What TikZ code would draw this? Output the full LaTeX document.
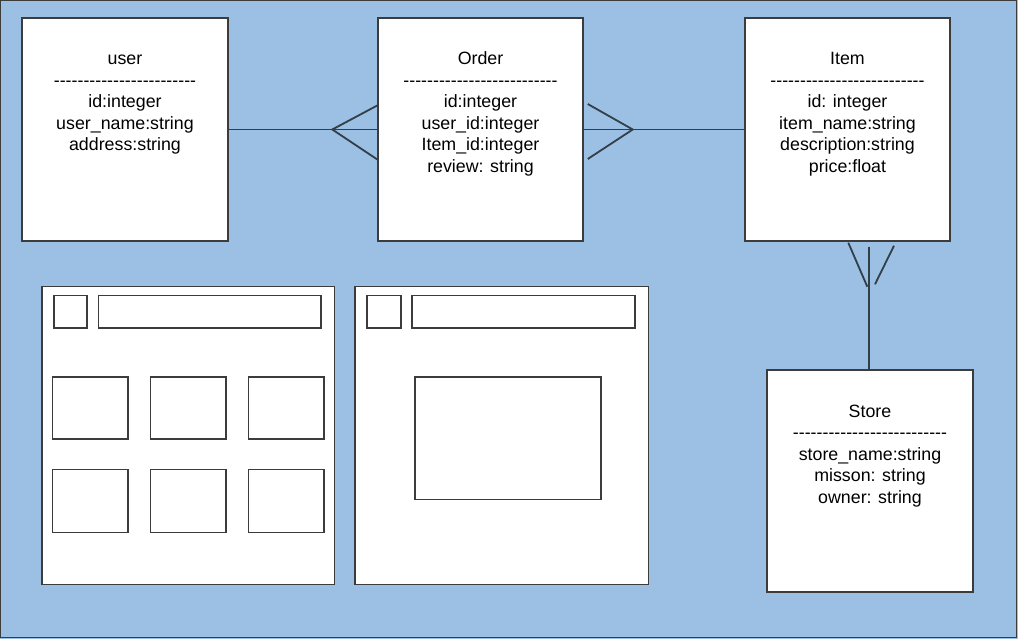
\documentclass[tikz,border=0pt]{standalone}
\usepackage{fontspec}
\setmainfont{Liberation Sans}[Ligatures=TeXOff]
\definecolor{bgblue}{RGB}{155,192,228}
\definecolor{edge}{RGB}{60,60,60}
\definecolor{conn}{RGB}{50,62,72}
\begin{document}
\begin{tikzpicture}[x=1pt,y=-1pt,
  entity/.style={draw=edge,fill=white,line width=1.5pt,minimum width=#1,inner sep=0pt,minimum height=223pt},
  entity/.default=206pt,
  etext/.style={align=center,inner sep=0pt,anchor=base,font=\fontsize{17.8}{21.5}\selectfont},
  wire/.style={draw=edge,fill=white,line width=1.6pt},
  conn/.style={draw=conn,line width=1.8pt}]
\useasboundingbox (0,0) rectangle (1018,639);
\fill[bgblue] (0,0) rectangle (1018,639);
\draw[edge,line width=1.3pt] (0.7,0.7) rectangle (1016.8,637.6);
% entities
\node[entity] (user) at (125,129.5) {};
\node[entity=205pt] (order) at (480.5,129.5) {};
\node[entity=205pt] (item) at (847.5,129.5) {};
\node[entity,minimum height=222pt] (store) at (870,481) {};
\node[etext] (usert) at (125,151) {user\\------------------------\\id:integer\\user\_name:string\\address:string};
\node[etext] (ordert) at (480.5,172.5) {Order\\--------------------------\\id:integer\\user\_id:integer\\Item\_id:integer\\review: string};
\node[etext] (itemt) at (847.5,172.5) {Item\\--------------------------\\id: integer\\item\_name:string\\description:string\\price:float};
\node[etext] (storet) at (870,503) {Store\\--------------------------\\store\_name:string\\misson: string\\owner: string};
% connectors
\coordinate (a1) at ([xshift=-45pt]order.west);
\draw[conn] (user.east) -- (order.west);
\draw[conn] ([yshift=24pt]order.west) -- (a1) -- ([yshift=-30pt]order.west);
\coordinate (a2) at ([xshift=49pt]order.east);
\draw[conn] (order.east) -- (item.west);
\draw[conn] ([xshift=4pt,yshift=25.5pt]order.east) -- (a2) -- ([xshift=4pt,yshift=-29.5pt]order.east);
\coordinate (vt) at (869.3,246.7);
\draw[conn] (vt) -- (vt |- store.north);
\coordinate (p1) at (848.3,242.7); \coordinate (p2) at (867.3,286.7);
\coordinate (p3) at (894,245.7); \coordinate (p4) at (875,284.3);
\draw[conn] (p1) -- (p2);
\draw[conn] (p3) -- (p4);
% wireframe left
\draw[wire] (41.7,286.7) rectangle (334.3,584.3);
\draw[wire] (53.7,295.7) rectangle (87,328);
\draw[wire] (98.3,295.7) rectangle (321,328);
\foreach \xa/\xb in {52.3/127.7,150.3/225.7,248.3/324}{
  \draw[wire] (\xa,376.7) rectangle (\xb,439);
  \draw[wire] (\xa,469.3) rectangle (\xb,532.3);
}
% wireframe right
\draw[wire] (355,286.7) rectangle (648.3,584.3);
\draw[wire] (367,295.7) rectangle (400.7,328);
\draw[wire] (412,295.7) rectangle (634.7,328);
\draw[wire] (415,376.7) rectangle (600.7,499.3);
\end{tikzpicture}
\end{document}
